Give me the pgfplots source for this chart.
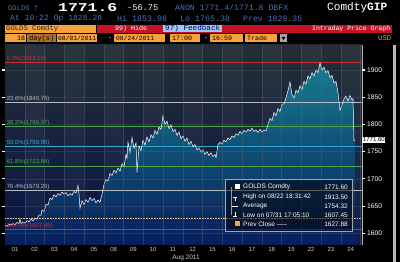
\documentclass[border=0pt]{standalone}
\usepackage{pgfplots}
\usepackage{pgfplotstable}
\pgfplotsset{compat=1.18}
\usetikzlibrary{fadings}
\usepackage{fontspec}
\setmainfont{Liberation Sans}
\newfontfamily\mono{Liberation Mono}
\definecolor{bbblue}{RGB}{74,112,182}
\definecolor{bborange}{RGB}{246,162,58}
\definecolor{bbred}{RGB}{196,18,38}
\definecolor{fbblue}{RGB}{160,200,236}
\definecolor{fibred}{RGB}{200,46,56}
\definecolor{fibgreen}{RGB}{72,170,72}
\definecolor{fibcyan}{RGB}{52,170,210}
\definecolor{fibgray}{RGB}{185,188,192}
\definecolor{bgtop}{RGB}{36,46,54}
\definecolor{bgmid}{RGB}{22,32,50}
\definecolor{bgbot}{RGB}{8,20,70}
\definecolor{artop}{RGB}{24,124,142}
\definecolor{arbot}{RGB}{8,30,92}
\definecolor{gridc}{RGB}{90,106,118}

\pgfplotstableread{
px v
5 1615
7 1613
9 1617
11 1615
13 1618
15 1616
17 1620
19 1618
20 1626
21 1618
23 1621
25 1619
27 1623
29 1621
31 1626
33 1623
35 1628
37 1626
39 1634
41 1633
42 1643
44 1640
46 1653
48 1652
50 1665
52 1662
54 1671
56 1667
58 1673
60 1670
62 1676
64 1672
66 1675
68 1669
70 1673
72 1670
74 1677
76 1674
78 1688
79 1672
80 1646
82 1660
84 1653
86 1662
88 1657
90 1666
92 1660
94 1664
96 1656
98 1661
100 1657
102 1672
104 1690
106 1699
108 1696
110 1710
112 1706
114 1716
116 1711
118 1720
120 1714
122 1728
124 1722
126 1745
127 1738
128 1768
130 1748
132 1776
134 1756
136 1766
137 1712
139 1760
141 1752
143 1771
145 1762
147 1777
149 1768
151 1781
153 1775
155 1789
157 1782
159 1795
161 1791
163 1816
165 1800
167 1806
169 1792
171 1799
173 1787
175 1791
177 1780
179 1786
181 1774
183 1779
185 1769
187 1775
189 1763
191 1769
193 1759
195 1763
197 1753
199 1757
201 1749
203 1753
205 1745
207 1750
209 1743
211 1748
213 1741
215 1745
216 1739
218 1763
220 1767
222 1764
224 1771
226 1768
228 1775
230 1772
232 1779
234 1776
236 1783
238 1780
240 1787
242 1783
244 1789
246 1786
248 1791
250 1788
252 1793
254 1787
256 1790
258 1785
260 1791
262 1786
264 1790
266 1788
268 1800
270 1811
272 1807
274 1822
276 1816
278 1829
280 1824
282 1837
284 1838
286 1849
288 1862
290 1878
292 1854
294 1848
296 1863
298 1858
300 1871
302 1864
304 1879
306 1874
308 1889
310 1884
312 1895
314 1889
316 1900
318 1895
320 1913
322 1900
324 1905
326 1895
328 1899
330 1886
332 1890
334 1876
336 1879
338 1858
340 1826
342 1836
344 1847
346 1852
348 1843
350 1853
352 1845
353 1847
354 1770
355 1771.6
}\gold

\newcommand{\hx}[2]{\resizebox{#1}{!}{#2}}

\begin{document}
\begin{tikzpicture}
\fill[black] (0,0) rectangle (400pt,262pt);
% ---------- header ----------
\begin{scope}[every node/.style={inner sep=0pt, anchor=west}]
\node[text=bbblue] at (8pt,254pt) {\hx{30pt}{\mono GOLDS †}};
\node[text=white] at (58pt,254pt) {\resizebox{59pt}{8pt}{\mono\bfseries 1771.6}};
\node[text=white] at (127pt,254pt) {\hx{31pt}{\mono -56.75}};
\node[text=bbblue] at (175pt,254pt) {\hx{113pt}{\mono ANON 1771.4/1771.8 DBFX}};
\node[text=white] at (327pt,254pt) {\hx{60pt}{\mono Comdty\bfseries GIP}};
\node[text=bbblue] at (10pt,243pt) {\hx{92pt}{\mono At 10:22 Op 1828.28}};
\node[text=bbblue] at (117pt,243pt) {\hx{50pt}{\mono Hi 1853.98}};
\node[text=bbblue] at (180pt,243pt) {\hx{50pt}{\mono Lo 1765.38}};
\node[text=bbblue] at (243pt,243pt) {\hx{59pt}{\mono Prev 1828.35}};
\end{scope}
% row 3
\fill[bborange] (5pt,229pt) rectangle (96pt,237pt);
\fill[bbred] (97pt,229pt) rectangle (392pt,237pt);
\fill[fbblue] (163pt,229.5pt) rectangle (222pt,236.5pt);
\begin{scope}[every node/.style={inner sep=0pt, anchor=west}]
\node[text=black!85] at (6pt,233pt) {\hx{52pt}{\mono GOLDS Comdty}};
\node[text=white] at (115pt,233pt) {\hx{32pt}{\mono 99) Hide}};
\node[text=blue!50!black] at (165pt,233pt) {\hx{55pt}{\mono 97) Feedback}};
\node[text=white] at (312pt,233pt) {\hx{78pt}{\mono Intraday Price Graph}};
\end{scope}
% row 4
\fill[bborange] (5pt,219.5pt) rectangle (26pt,228pt);
\fill[bborange!70!black] (27pt,219.5pt) rectangle (56pt,228pt);
\fill[bborange] (57pt,219.5pt) rectangle (97pt,228pt);
\fill[bborange] (114pt,219.5pt) rectangle (165pt,228pt);
\fill[bborange] (170pt,219.5pt) rectangle (200pt,228pt);
\fill[bborange] (210pt,219.5pt) rectangle (243pt,228pt);
\fill[bborange] (245pt,219.5pt) rectangle (277pt,228pt);
\fill[gray!70] (280pt,219.5pt) rectangle (287pt,228pt);
\fill[black] (281.5pt,225pt) -- (285.5pt,225pt) -- (283.5pt,222pt) -- cycle;
\begin{scope}[every node/.style={inner sep=0pt, anchor=west}]
\node[text=black] at (17pt,223.7pt) {\hx{8pt}{\mono 18}};
\node[text=black] at (29pt,223.7pt) {\hx{25pt}{\mono day(s)}};
\node[text=black] at (58pt,223.7pt) {\hx{38pt}{\mono 08/01/2011}};
\node[text=white] at (108pt,223.7pt) {\hx{4pt}{\mono -}};
\node[text=black] at (116pt,223.7pt) {\hx{38pt}{\mono 08/24/2011}};
\node[text=black] at (172pt,223.7pt) {\hx{20pt}{\mono 17:00}};
\node[text=white] at (204pt,223.7pt) {\hx{4pt}{\mono -}};
\node[text=black] at (212pt,223.7pt) {\hx{20pt}{\mono 16:59}};
\node[text=black] at (247pt,223.7pt) {\hx{20pt}{\mono Trade}};
\node[text=bborange] at (378pt,223.7pt) {\hx{13pt}{\mono USD}};
\end{scope}
% scrollbar
\fill[gray!55] (393pt,0pt) rectangle (396pt,217pt);
% ---------- chart ----------
\begin{axis}[
  at={(5pt,17pt)}, anchor=south west,
  scale only axis, width=357pt, height=200pt,
  xmin=5, xmax=362, ymin=1578.6, ymax=1945.8,
  axis background/.style={top color=bgtop, middle color=bgmid, bottom color=bgbot},
  axis line style={draw=none},
  axis on top,
  xtick={14.9,34.6,54.4,74.1,93.9,113.6,133.4,153.1,172.9,192.6,212.4,232.1,251.9,271.6,291.4,311.1,330.9,350.6},
  xticklabels={01,02,03,04,05,08,09,10,11,12,15,16,17,18,19,22,23,24},
  minor xtick={24.75,44.5,64.25,84,103.75,123.5,143.25,163,182.75,202.5,222.25,242,261.75,281.5,301.25,321,340.75,360.5},
  xminorgrids, minor x grid style={gridc, line width=0.4pt, opacity=0.4},
  x tick style={draw=none}, minor x tick style={draw=none},
  xticklabel style={font=\fontsize{6}{7}\selectfont, text=gray!40, yshift=1pt},
  ytick={1600,1650,1700,1750,1800,1850,1900},
  /pgf/number format/.cd, 1000 sep={}, assume math mode=true, /pgfplots/.cd,
  ymajorgrids, y grid style={gridc, line width=0.4pt, opacity=0.3},
  yticklabel pos=right,
  ytick align=outside,
  major tick length=3pt,
  y tick style={white, line width=1.2pt},
  yticklabel style={font=\fontsize{6.75}{8}\selectfont, text=white, xshift=-1.5pt},
  clip=false,
]
% alternating columns
\fill[white, opacity=0.035] (axis cs:24.75,1578.6) rectangle (axis cs:44.5,1945.8);
\fill[white, opacity=0.035] (axis cs:64.25,1578.6) rectangle (axis cs:84,1945.8);
\fill[white, opacity=0.035] (axis cs:103.75,1578.6) rectangle (axis cs:123.5,1945.8);
\fill[white, opacity=0.035] (axis cs:143.25,1578.6) rectangle (axis cs:163,1945.8);
\fill[white, opacity=0.035] (axis cs:182.75,1578.6) rectangle (axis cs:202.5,1945.8);
\fill[white, opacity=0.035] (axis cs:222.25,1578.6) rectangle (axis cs:242,1945.8);
\fill[white, opacity=0.035] (axis cs:261.75,1578.6) rectangle (axis cs:281.5,1945.8);
\fill[white, opacity=0.035] (axis cs:301.25,1578.6) rectangle (axis cs:321,1945.8);
\fill[white, opacity=0.035] (axis cs:340.75,1578.6) rectangle (axis cs:360.5,1945.8);
\addplot[draw=none, fill=arbot] table[x=px,y=v] {\gold} -- (axis cs:355,1578.6) -- (axis cs:5,1578.6) -- cycle;
\addplot[draw=none, fill=artop, path fading=south] table[x=px,y=v] {\gold} -- (axis cs:355,1578.6) -- (axis cs:5,1578.6) -- cycle;
% fibonacci levels
\addplot[fibred, line width=0.6pt] coordinates {(5,1913.50) (362,1913.50)};
\addplot[fibgray, line width=0.6pt] coordinates {(5,1840.76) (362,1840.76)};
\addplot[fibgreen, line width=0.6pt] coordinates {(5,1796.07) (362,1796.07)};
\addplot[fibcyan, line width=0.6pt] coordinates {(5,1759.96) (362,1759.96)};
\addplot[fibgreen, line width=0.6pt] coordinates {(5,1723.84) (362,1723.84)};
\addplot[fibgray, line width=0.6pt] coordinates {(5,1679.26) (362,1679.26)};
\addplot[fibred, line width=0.6pt] coordinates {(5,1607.45) (362,1607.45)};
\addplot[bborange!60!white, densely dotted, line width=0.6pt] coordinates {(5,1627.88) (362,1627.88)};
% price
\addplot[white, line width=0.5pt] table[x=px,y=v] {\gold};
\node[text=fibred, anchor=south west, inner sep=0.6pt, font=\fontsize{6}{6}\selectfont] at (axis cs:6,1913.50) {0.0\%(1913.50)};
\node[text=fibgray, anchor=south west, inner sep=0.6pt, font=\fontsize{6}{6}\selectfont] at (axis cs:6,1840.76) {23.6\%(1840.76)};
\node[text=fibgreen, anchor=south west, inner sep=0.6pt, font=\fontsize{6}{6}\selectfont] at (axis cs:6,1796.07) {38.2\%(1796.07)};
\node[text=fibcyan, anchor=south west, inner sep=0.6pt, font=\fontsize{6}{6}\selectfont] at (axis cs:6,1759.96) {50.0\%(1759.96)};
\node[text=fibgreen, anchor=south west, inner sep=0.6pt, font=\fontsize{6}{6}\selectfont] at (axis cs:6,1723.84) {61.8\%(1723.84)};
\node[text=fibgray, anchor=south west, inner sep=0.6pt, font=\fontsize{6}{6}\selectfont] at (axis cs:6,1679.26) {76.4\%(1679.26)};
\node[text=fibred, anchor=south west, inner sep=0.6pt, font=\fontsize{6}{6}\selectfont] at (axis cs:6,1607.45) {100.0\%(1607.45)};
\draw[gray!60, line width=0.4pt] (rel axis cs:1,0) -- (rel axis cs:1,1);
\node[fill=white, text=black, anchor=west, inner sep=0.8pt, font=\fontsize{6}{7}\selectfont] at (axis cs:362,1771.6) {1771.60};
\end{axis}
% Aug 2011
\node[text=gray!40, inner sep=0pt, font=\fontsize{6.5}{7}\selectfont] at (186pt,4pt) {Aug 2011};
% ---------- legend box ----------
\fill[black, opacity=0.5] (225pt,31pt) rectangle (352pt,83pt);
\draw[gray!70, line width=0.5pt] (225pt,31pt) rectangle (352pt,83pt);
\draw[gray!80, line width=0.5pt] (231pt,75pt) -- (231pt,47pt);
\fill[white] (235pt,72.5pt) rectangle (240pt,77.5pt);
\draw[white, line width=0.6pt] (233pt,65pt) -- (237pt,65pt) (235pt,65pt) -- (235pt,61pt);
\draw[white, line width=0.6pt] (232pt,56pt) -- (238pt,56pt);
\draw[white, line width=0.6pt] (235pt,50pt) -- (235pt,46pt) (233pt,46pt) -- (237pt,46pt);
\fill[bborange] (235pt,35.5pt) rectangle (240pt,40.5pt);
\node[anchor=west, inner sep=0pt, text=white, font=\fontsize{6.5}{7}\selectfont] at (243pt,75pt) {GOLDS Comdty};
\node[anchor=west, inner sep=0pt, text=white, font=\fontsize{6.5}{7}\selectfont] at (243pt,65pt) {High on 08/22 18:31:42};
\node[anchor=west, inner sep=0pt, text=white, font=\fontsize{6.5}{7}\selectfont] at (243pt,56pt) {Average};
\node[anchor=west, inner sep=0pt, text=white, font=\fontsize{6.5}{7}\selectfont] at (243pt,47pt) {Low on 07/31 17:05:10};
\node[anchor=west, inner sep=0pt, text=white, font=\fontsize{6.5}{7}\selectfont] at (243pt,38pt) {Prev Close -----};
\node[anchor=east, inner sep=0pt, text=white, font=\fontsize{6.5}{7}\selectfont] at (348pt,75pt) {1771.60};
\node[anchor=east, inner sep=0pt, text=white, font=\fontsize{6.5}{7}\selectfont] at (348pt,65pt) {1913.50};
\node[anchor=east, inner sep=0pt, text=white, font=\fontsize{6.5}{7}\selectfont] at (348pt,56pt) {1754.32};
\node[anchor=east, inner sep=0pt, text=white, font=\fontsize{6.5}{7}\selectfont] at (348pt,47pt) {1607.45};
\node[anchor=east, inner sep=0pt, text=white, font=\fontsize{6.5}{7}\selectfont] at (348pt,38pt) {1627.88};
\pgfresetboundingbox
\useasboundingbox (0,0) rectangle (400pt,262pt);
\end{tikzpicture}
\end{document}
